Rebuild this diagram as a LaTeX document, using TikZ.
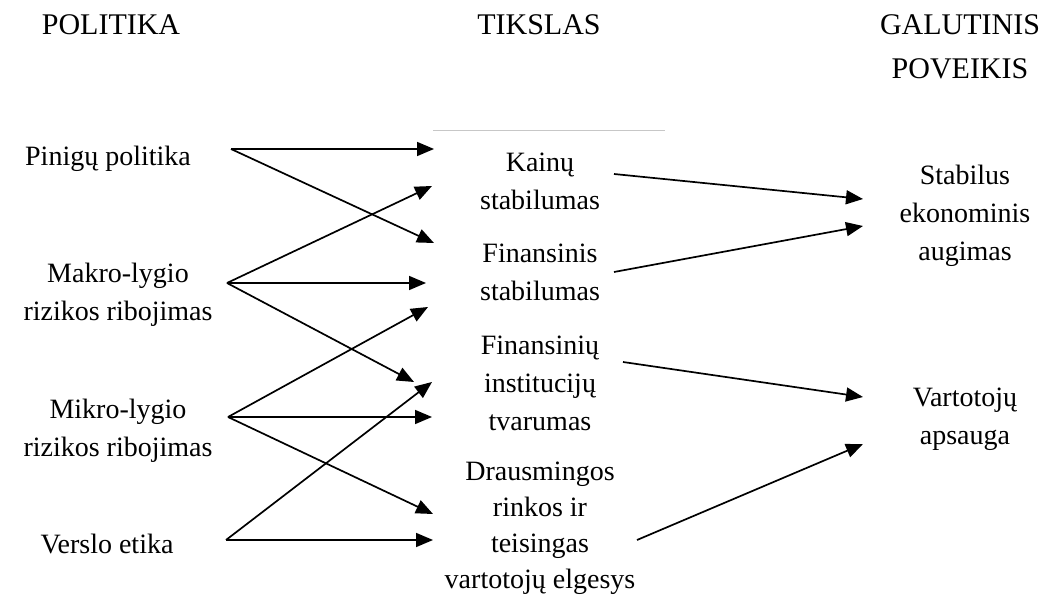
\documentclass[tikz,border=0pt]{standalone}
\usepackage{fontspec}
\setmainfont{Liberation Serif}
\usetikzlibrary{arrows.meta}

\tikzset{
  txt/.style = {align = center, inner sep = 0pt, font = \fontsize{28}{38}\selectfont},
  head/.style = {align = center, inner sep = 0pt, font = \fontsize{30}{44}\selectfont},
  arr/.style = {-{Triangle[length = 17pt, width = 14pt]}, line width = 1.7pt}
}

\begin{document}
\begin{tikzpicture}[x = 1pt, y = -1pt]

\useasboundingbox (0,0) rectangle (1053,601);

% column titles
\node[head] (h1) at (111,25) {POLITIKA};
\node[head] (h2) at (539,25) {TIKSLAS};
\node[head] (h3) at (960,47) {GALUTINIS\\POVEIKIS};

\draw [line width = 1pt, black!22] (433,131) -- (665,131);

\node[txt] (p1) at (108,159) {Pinigų politika};
\node[txt] (p2) at (118,295) {Makro-lygio\\rizikos ribojimas};
\node[txt] (p3) at (118,431) {Mikro-lygio\\rizikos ribojimas};
\node[txt] (p4) at (107,544) {Verslo etika};

\node[txt] (t1) at (540,181) {Kainų\\stabilumas};
\node[txt] (t2) at (540,272) {Finansinis\\stabilumas};
\node[txt] (t3) at (540,383) {Finansinių\\institucijų\\tvarumas};
\node[txt, font = \fontsize{28}{36}\selectfont] (t4) at (540,528) {Drausmingos\\rinkos ir\\teisingas\\vartotojų elgesys};

\node[txt] (g1) at (965,216) {Stabilus\\ekonominis\\augimas};
\node[txt] (g2) at (965,419) {Vartotojų\\apsauga};

% arrow ends
\coordinate (p1o) at (231,149);
\coordinate (p2o) at (227,283);
\coordinate (p3o) at (228,417);
\coordinate (p4o) at (226,540);

\coordinate (t1a) at (434,149);
\coordinate (t1b) at (432,186);
\coordinate (t2a) at (434,243);
\coordinate (t2b) at (426,283);
\coordinate (t2c) at (428,307);
\coordinate (t3a) at (414,382);
\coordinate (t3b) at (432,382);
\coordinate (t3c) at (432,417);
\coordinate (t4a) at (433,514);
\coordinate (t4b) at (433,540);

\coordinate (t1o) at (614,174);
\coordinate (t2o) at (614,272);
\coordinate (t3o) at (623,362);
\coordinate (t4o) at (637,540);

\coordinate (g1a) at (863,199);
\coordinate (g1b) at (863,226);
\coordinate (g2a) at (863,397);
\coordinate (g2b) at (863,444);

\draw [arr] (p1o) -- (t1a);
\draw [arr] (p1o) -- (t2a);
\draw [arr] (p2o) -- (t1b);
\draw [arr] (p2o) -- (t2b);
\draw [arr] (p2o) -- (t3a);
\draw [arr] (p3o) -- (t2c);
\draw [arr] (p3o) -- (t3c);
\draw [arr] (p3o) -- (t4a);
\draw [arr] (p4o) -- (t3b);
\draw [arr] (p4o) -- (t4b);

\draw [arr] (t1o) -- (g1a);
\draw [arr] (t2o) -- (g1b);
\draw [arr] (t3o) -- (g2a);
\draw [arr] (t4o) -- (g2b);

\end{tikzpicture}
\end{document}
